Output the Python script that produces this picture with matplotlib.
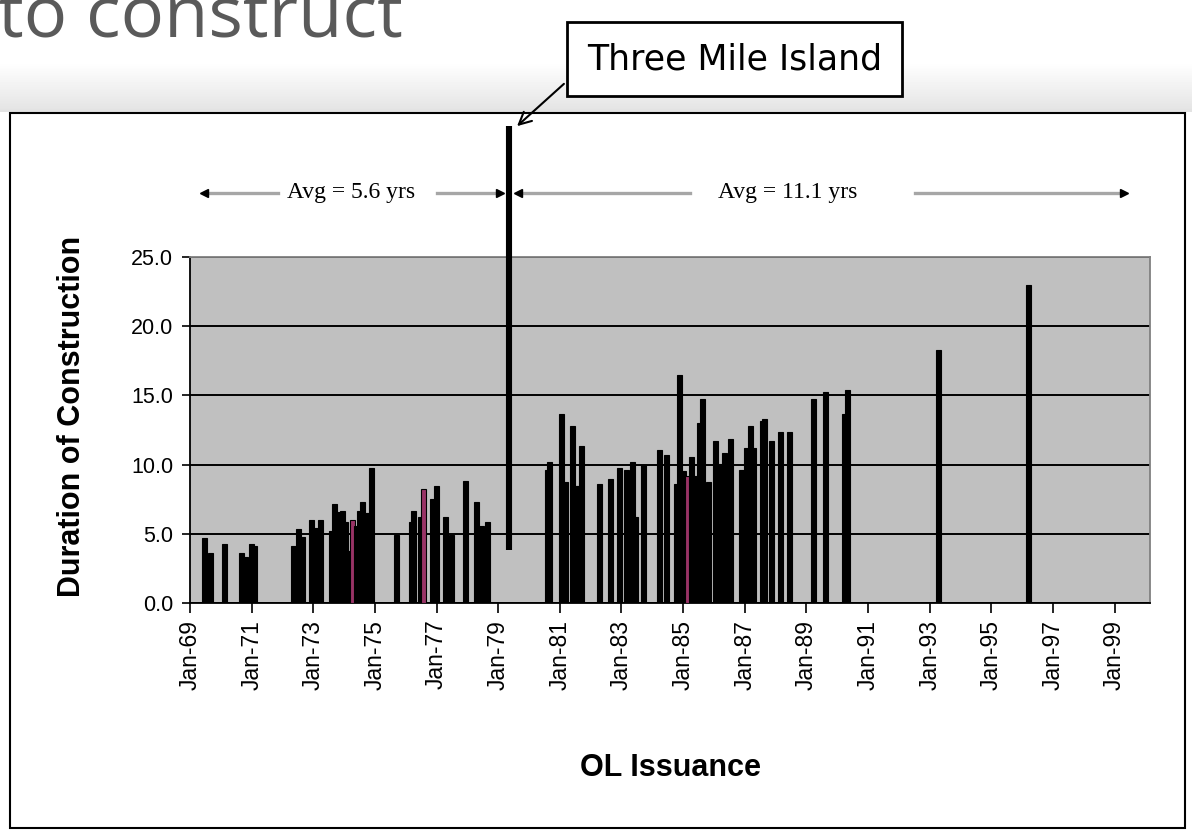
import numpy as np
import matplotlib
matplotlib.use("Agg")
import matplotlib.pyplot as plt
from matplotlib.patches import Rectangle

# OL issuance (decimal year) and duration of construction (years)
dates = [1969.46, 1969.67, 1970.11, 1970.68, 1970.80, 1970.99, 1971.08,
         1972.35, 1972.51, 1972.64, 1972.94, 1973.07, 1973.22, 1973.58,
         1973.69, 1973.83, 1973.96, 1974.04, 1974.13, 1974.28, 1974.40,
         1974.51, 1974.60, 1974.71, 1974.81, 1974.89, 1975.69, 1976.17,
         1976.26, 1976.48, 1976.58, 1976.87, 1976.99, 1977.28, 1977.50,
         1977.94, 1978.29, 1978.45, 1978.64,
         1980.60, 1980.68, 1981.05, 1981.18, 1981.42, 1981.50, 1981.61,
         1981.71, 1982.28, 1982.64, 1982.94, 1983.15, 1983.36, 1983.46,
         1983.73, 1984.23, 1984.46, 1984.80, 1984.89, 1985.02, 1985.15,
         1985.26, 1985.43, 1985.54, 1985.62, 1985.83, 1986.05, 1986.21,
         1986.34, 1986.55, 1986.91, 1987.07, 1987.20, 1987.29, 1987.56,
         1987.64, 1987.86, 1988.15, 1988.44, 1989.23, 1989.61, 1990.22,
         1990.33, 1993.30, 1996.21]
durations = [4.72, 3.59, 4.24, 3.62, 3.30, 4.24, 4.12,
             4.10, 5.37, 4.74, 6.00, 5.44, 6.00, 5.22,
             7.17, 6.54, 6.66, 5.87, 3.78, 6.00, 5.56,
             6.66, 7.31, 6.52, 6.52, 9.72, 4.93, 5.87,
             6.66, 6.18, 8.22, 7.50, 8.46, 6.18, 4.93,
             8.78, 7.31, 5.54, 5.87,
             9.60, 10.20, 13.63, 8.75, 12.79, 8.47, 8.47,
             11.35, 8.61, 8.95, 9.74, 9.60, 10.22, 6.18,
             9.98, 11.03, 10.70, 8.63, 16.51, 9.55, 9.19,
             10.55, 9.19, 12.98, 14.76, 8.75, 11.68, 10.03,
             10.87, 11.85, 9.60, 11.18, 12.79, 11.18, 13.15,
             13.27, 11.68, 12.33, 12.33, 14.76, 15.26, 13.63,
             15.38, 18.29, 23.00]
highlighted = [1974.28, 1976.58, 1985.15]  # bars drawn in plum

tick_years = list(range(1969, 2000, 2))
tick_labels = ["Jan-%02d" % (y % 100) for y in tick_years]

tmi_date = 1979.34
tmi_low, tmi_high = 3.8, 34.5

fig = plt.figure(figsize=(11.92, 8.31), dpi=100)
fig.patch.set_facecolor("white")

# soft shadow above the chart frame
bg = fig.add_axes([0, 1 - 112 / 831, 1, 50 / 831], zorder=-2)
grad = np.linspace(1.0, 0.89, 50).reshape(-1, 1)
bg.imshow(grad, aspect="auto", cmap="gray", vmin=0, vmax=1, extent=[0, 1, 0, 1])
bg.axis("off")

# slide title, cut off at the top
fig.text(-0.002, 1 - 37 / 831, "to construct", fontsize=52, family="Open Sans",
         color="#5a5a5a", va="baseline", ha="left")

# chart frame
fig.patches.append(Rectangle((10 / 1192, 3 / 831), 1175 / 1192, 715 / 831,
                             transform=fig.transFigure, fill=True, fc="white",
                             ec="black", lw=1.5, zorder=-1))

ax = fig.add_axes([190 / 1192, 1 - 603 / 831, 960 / 1192, 346 / 831])
ax.set_facecolor("#c0c0c0")

colors = ["#993366" if d in highlighted else "black" for d in dates]
ax.bar(dates, durations, width=0.16, color=colors, edgecolor="black",
       linewidth=0.8, zorder=3)

ax.set_xlim(1969.0, 2000.15)
ax.set_ylim(0, 25)
ax.set_yticks(np.arange(0, 26, 5))
ax.set_yticklabels(["%.1f" % v for v in np.arange(0, 26, 5)],
                   fontsize=15.5, family="Liberation Sans")
ax.set_xticks(tick_years)
ax.set_xticklabels(tick_labels, rotation=90, fontsize=16.5, family="Liberation Sans")
ax.tick_params(axis="x", direction="out", length=7, width=1.2, pad=5)
ax.tick_params(axis="y", direction="out", length=6, width=1.2, pad=6)
ax.yaxis.grid(True, color="black", lw=1.4, zorder=1)
ax.set_axisbelow(True)
for s in ["left", "bottom"]:
    ax.spines[s].set_color("black")
    ax.spines[s].set_linewidth(1.3)
for s in ["top", "right"]:
    ax.spines[s].set_color("#808080")
    ax.spines[s].set_linewidth(1.3)

# Three Mile Island marker
ax.plot([tmi_date, tmi_date], [tmi_low, tmi_high], color="black", lw=4.4,
        clip_on=False, zorder=5, solid_capstyle="butt")

# average spans
tr = ax.get_xaxis_transform()
ya = 1.185
segs = [(1969.54, 1971.84), (1977.03, 1978.95), (1979.68, 1985.23), (1992.53, 1999.2)]
for a, b in segs:
    ax.plot([a, b], [ya, ya], color="#a6a6a6", lw=2.4, transform=tr, clip_on=False)
ax.plot([1969.47, 1979.65], [ya, ya], ls="none", marker="<", ms=6, color="black",
        transform=tr, clip_on=False)
ax.plot([1979.05, 1999.3], [ya, ya], ls="none", marker=">", ms=6, color="black",
        transform=tr, clip_on=False)
ax.text(1974.24, ya, "Avg = 5.6 yrs", transform=tr, ha="center", va="center",
        fontsize=17, family="Liberation Serif")
ax.text(1988.38, ya, "Avg = 11.1 yrs", transform=tr, ha="center", va="center",
        fontsize=17, family="Liberation Serif")

fig.text(72 / 1192, 1 - 416 / 831, "Duration of Construction", rotation=90,
         ha="center", va="center", fontsize=22, fontweight="bold",
         family="Liberation Sans")
fig.text(670 / 1192, 1 - 768 / 831, "OL Issuance", ha="center", va="center",
         fontsize=22, fontweight="bold", family="Liberation Sans")

# callout box
fig.patches.append(Rectangle((567 / 1192, 1 - 96 / 831), 335 / 1192, 74 / 831,
                             transform=fig.transFigure, fc="white", ec="black",
                             lw=2, zorder=6))
fig.text(734.5 / 1192, 1 - 59 / 831, "Three Mile Island", ha="center", va="center",
         fontsize=25, family="DejaVu Sans", zorder=7)
ax.annotate("", xy=(515 / 1192, 1 - 128 / 831), xycoords="figure fraction",
            xytext=(566 / 1192, 1 - 82 / 831), textcoords="figure fraction",
            arrowprops=dict(arrowstyle="->", lw=1.5, color="black",
                            mutation_scale=22))

fig.savefig("out.png", dpi=100)
